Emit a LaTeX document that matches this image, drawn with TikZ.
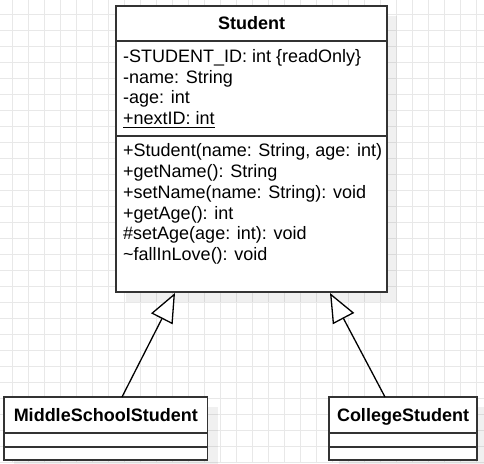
\documentclass[tikz,border=0pt]{standalone}
\usepackage{fontspec}
\setmainfont{Liberation Sans}
\usetikzlibrary{arrows.meta}
\definecolor{gridc}{RGB}{232,232,232}
\definecolor{boxc}{RGB}{51,51,51}
\tikzset{
  gridline/.style={draw=gridc, line width=0.8pt},
  shadowbox/.style={fill=black, fill opacity=0.06, draw=none},
  classbox/.style={draw=boxc, line width=1.8pt, fill=white},
  divider/.style={draw=boxc, line width=1.8pt},
  member/.style={anchor=base west, inner sep=0pt, font=\fontsize{18}{21}\selectfont},
  title/.style={anchor=base, inner sep=0pt, font=\fontsize{18}{21}\selectfont\bfseries},
  inherit/.style={draw=black, line width=1.3pt, -{Triangle[open, length=29pt, width=24pt, line width=1.3pt, fill=white]}},
}
\begin{document}
\begin{tikzpicture}[x=1pt, y=-1pt]
\useasboundingbox (0,0) rectangle (484,463);
\fill[white] (0,0) rectangle (484,463);
% grid
\foreach \gx in {12.7,28.7,...,484} {\draw[gridline] (\gx,0) -- (\gx,463);}
\foreach \gy in {14,30,...,463} {\draw[gridline] (0,\gy) -- (484,\gy);}
% shadows
\fill[shadowbox] (126,16) rectangle (397,302);
\fill[shadowbox] (14,407) rectangle (218,470);
\fill[shadowbox] (339,407) rectangle (487,470);
% Student class
\node[classbox, minimum width=271pt, minimum height=286pt, inner sep=0pt] (student) at (251.5,149) {};
\draw[divider] (116,41) -- (387,41);
\draw[divider] (116,136) -- (387,136);
\node[title] (sname) at (251.5,29.3) {Student};
\node[member] (a1) at (123,62.7) {-STUDENT\_ID: int \{readOnly\}};
\node[member] (a2) at (123,83.2) {-name: String};
\node[member] (a3) at (123,103.7) {-age: int};
\node[member] (a4) at (123,124.2) {+nextID: int};
\draw[line width=1pt] ([yshift=-3.2pt]a4.base west) -- ([yshift=-3.2pt]a4.base east);
\node[member] (m1) at (123,156.7) {+Student(name: String, age: int)};
\node[member] (m2) at (123,177.5) {+getName(): String};
\node[member] (m3) at (123,198.3) {+setName(name: String): void};
\node[member] (m4) at (123,219.1) {+getAge(): int};
\node[member] (m5) at (123,239.9) {\#setAge(age: int): void};
\node[member] (m6) at (123,260.7) {\textasciitilde fallInLove(): void};
% MiddleSchoolStudent
\node[classbox, minimum width=203.5pt, minimum height=63pt, inner sep=0pt] (ms) at (105.75,428.5) {};
\draw[divider] (4,433) -- (207.5,433);
\draw[divider] (4,447) -- (207.5,447);
\node[title] (msname) at (105.75,421) {MiddleSchoolStudent};
% CollegeStudent
\node[classbox, minimum width=148pt, minimum height=63pt, inner sep=0pt] (cs) at (403,428.5) {};
\draw[divider] (329,433) -- (477,433);
\draw[divider] (329,447) -- (477,447);
\node[title] (csname) at (403,421) {CollegeStudent};
% connector endpoints
\coordinate (msTop) at (122,397);
\coordinate (csTop) at (385,397);
\coordinate (stL) at (175,293);
\coordinate (stR) at (330,293);
\draw[inherit] (msTop) -- (stL);
\draw[inherit] (csTop) -- (stR);
\end{tikzpicture}
\end{document}
